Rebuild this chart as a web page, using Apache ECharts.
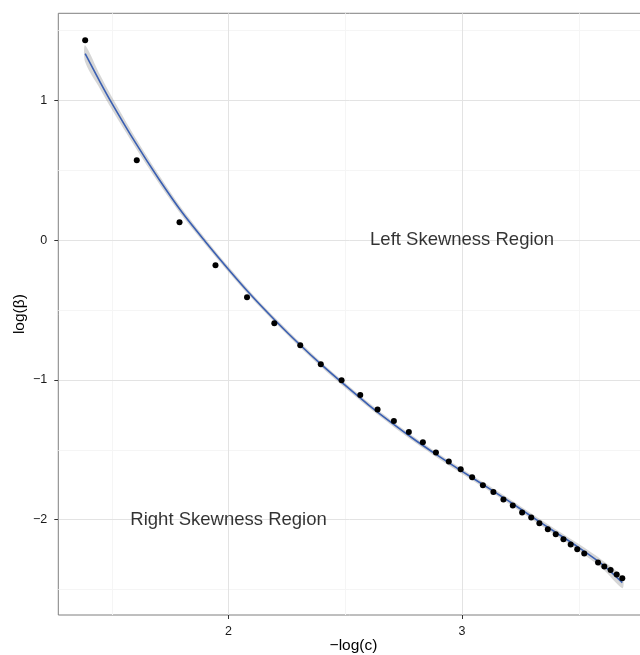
<!DOCTYPE html>
<html>
<head>
<meta charset="utf-8">
<script src="https://cdn.jsdelivr.net/npm/echarts@6/dist/echarts.min.js"></script>
<style>
  html, body { margin: 0; padding: 0; background: #fff; }
  #chart { width: 640px; height: 655px; }
</style>
</head>
<body>
<div id="chart"></div>
<script>
// observed points
const pointX = [1.386, 1.607, 1.790, 1.944, 2.079, 2.196, 2.307, 2.395, 2.484, 2.564, 2.638, 2.708, 2.772, 2.832, 2.888, 2.943, 2.994, 3.043, 3.089, 3.134, 3.177, 3.217, 3.257, 3.296, 3.331, 3.367, 3.401, 3.434, 3.465, 3.493, 3.523, 3.582, 3.609, 3.636, 3.662, 3.686];
const pointY = [1.429, 0.570, 0.128, -0.180, -0.409, -0.595, -0.753, -0.888, -1.003, -1.109, -1.212, -1.295, -1.373, -1.447, -1.519, -1.584, -1.639, -1.696, -1.753, -1.803, -1.855, -1.898, -1.948, -1.984, -2.025, -2.069, -2.105, -2.141, -2.177, -2.211, -2.242, -2.306, -2.335, -2.361, -2.392, -2.420];

// smoothed fit and its confidence band
const fitX = [1.386, 1.45, 1.5, 1.6, 1.7, 1.8, 1.9, 2.0, 2.1, 2.2, 2.3, 2.4, 2.5, 2.6, 2.7, 2.8, 2.9, 3.0, 3.1, 3.2, 3.3, 3.4, 3.5, 3.6, 3.686];
const fitY = [1.333, 1.130, 0.980, 0.700, 0.440, 0.200, -0.010, -0.210, -0.400, -0.575, -0.740, -0.895, -1.040, -1.180, -1.310, -1.432, -1.546, -1.655, -1.760, -1.868, -1.980, -2.090, -2.200, -2.320, -2.450];
const fitHi = [1.393, 1.180, 1.025, 0.735, 0.470, 0.225, 0.012, -0.190, -0.382, -0.557, -0.722, -0.877, -1.022, -1.162, -1.292, -1.414, -1.528, -1.637, -1.742, -1.849, -1.960, -2.068, -2.175, -2.290, -2.410];
const fitLo = [1.273, 1.080, 0.935, 0.665, 0.410, 0.175, -0.032, -0.230, -0.418, -0.593, -0.758, -0.913, -1.058, -1.198, -1.328, -1.450, -1.564, -1.673, -1.778, -1.887, -2.000, -2.112, -2.225, -2.350, -2.490];

// annotations
const noteX = [3, 2];
const noteY = [0, -2];
const noteText = ['Left Skewness Region', 'Right Skewness Region'];

// axis ticks and grid lines
const xTicks = [2, 3];
const yTicks = [-2, -1, 0, 1];
const xMinor = [1.5, 2.5, 3.5];
const yMinor = [-2.5, -1.5, -0.5, 0.5, 1.5];

const font = 'Liberation Sans, Arial, Helvetica, sans-serif';
const minus = v => String(v).replace('-', '\u2212');

const chart = echarts.init(document.getElementById('chart'), null, { renderer: 'canvas' });

const option = {
  animation: false,
  backgroundColor: '#ffffff',
  textStyle: { fontFamily: font },
  grid: {
    left: 58.3, top: 13.3, right: -8.7, bottom: 40,
    outerBoundsMode: 'none',
    containLabel: false,
    show: true, borderColor: '#7f7f7f', borderWidth: 1, backgroundColor: 'transparent'
  },
  xAxis: {
    type: 'value',
    min: 1.271, max: 3.799,
    name: '\u2212log(c)',
    nameLocation: 'middle',
    nameGap: 23,
    nameMoveOverlap: false,
    nameTextStyle: { fontSize: 15.5, color: '#000', fontFamily: font },
    axisLine: { show: false, onZero: false },
    splitLine: { show: false },
    axisTick: { show: true, customValues: xTicks, length: 4, lineStyle: { color: '#333' } },
    axisLabel: { customValues: xTicks, fontSize: 12.5, color: '#1a1a1a', margin: 10, formatter: minus }
  },
  yAxis: {
    type: 'value',
    min: -2.682, max: 1.622,
    name: 'log(\u03b2)',
    nameLocation: 'middle',
    nameGap: 31,
    nameMoveOverlap: false,
    nameRotate: 90,
    nameTextStyle: { fontSize: 15.5, color: '#000', fontFamily: font },
    axisLine: { show: false, onZero: false },
    splitLine: { show: false },
    axisTick: { show: true, customValues: yTicks, length: 4, lineStyle: { color: '#333' } },
    axisLabel: { customValues: yTicks, fontSize: 12.5, color: '#1a1a1a', margin: 11, formatter: minus }
  },
  series: [
    {
      // minor grid
      type: 'line', data: [], z: 0, silent: true,
      markLine: {
        z: 0, silent: true, symbol: 'none', animation: false,
        label: { show: false },
        lineStyle: { color: '#f5f5f5', width: 1, type: 'solid' },
        data: xMinor.map(v => ({ xAxis: v })).concat(yMinor.map(v => ({ yAxis: v })))
      }
    },
    {
      // major grid
      type: 'line', data: [], z: 0, silent: true,
      markLine: {
        z: 0, silent: true, symbol: 'none', animation: false,
        label: { show: false },
        lineStyle: { color: '#e3e3e3', width: 1, type: 'solid' },
        data: xTicks.map(v => ({ xAxis: v })).concat(yTicks.map(v => ({ yAxis: v })))
      }
    },
    {
      // confidence band
      type: 'custom', z: 6, silent: true,
      data: fitX.map((x, i) => [x, fitY[i]]),
      renderItem: function (params, api) {
        if (params.dataIndex !== 0) return;
        const pts = [];
        for (let i = 0; i < fitX.length; i++) pts.push(api.coord([fitX[i], fitHi[i]]));
        for (let i = fitX.length - 1; i >= 0; i--) pts.push(api.coord([fitX[i], fitLo[i]]));
        return {
          type: 'polygon',
          shape: { points: pts, smooth: 0.3 },
          style: { fill: 'rgba(153,153,153,0.4)' }
        };
      }
    },
    {
      type: 'line', z: 7, silent: true,
      data: fitX.map((x, i) => [x, fitY[i]]),
      showSymbol: false, symbol: 'none', smooth: 0.3,
      lineStyle: { color: '#3a5fb2', width: 1.6 }
    },
    {
      type: 'scatter', z: 8, silent: true,
      data: pointX.map((x, i) => [x, pointY[i]]),
      symbol: 'circle', symbolSize: 6,
      itemStyle: { color: '#000', opacity: 1 }
    },
    {
      type: 'scatter', z: 9, silent: true,
      data: noteX.map((x, i) => ({ value: [x, noteY[i]], name: noteText[i] })),
      symbolSize: 0,
      label: {
        show: true, position: 'inside', formatter: '{b}',
        fontSize: 18.5, color: '#000', fontFamily: font
      }
    }
  ]
};

chart.setOption(option);
</script>
</body>
</html>
